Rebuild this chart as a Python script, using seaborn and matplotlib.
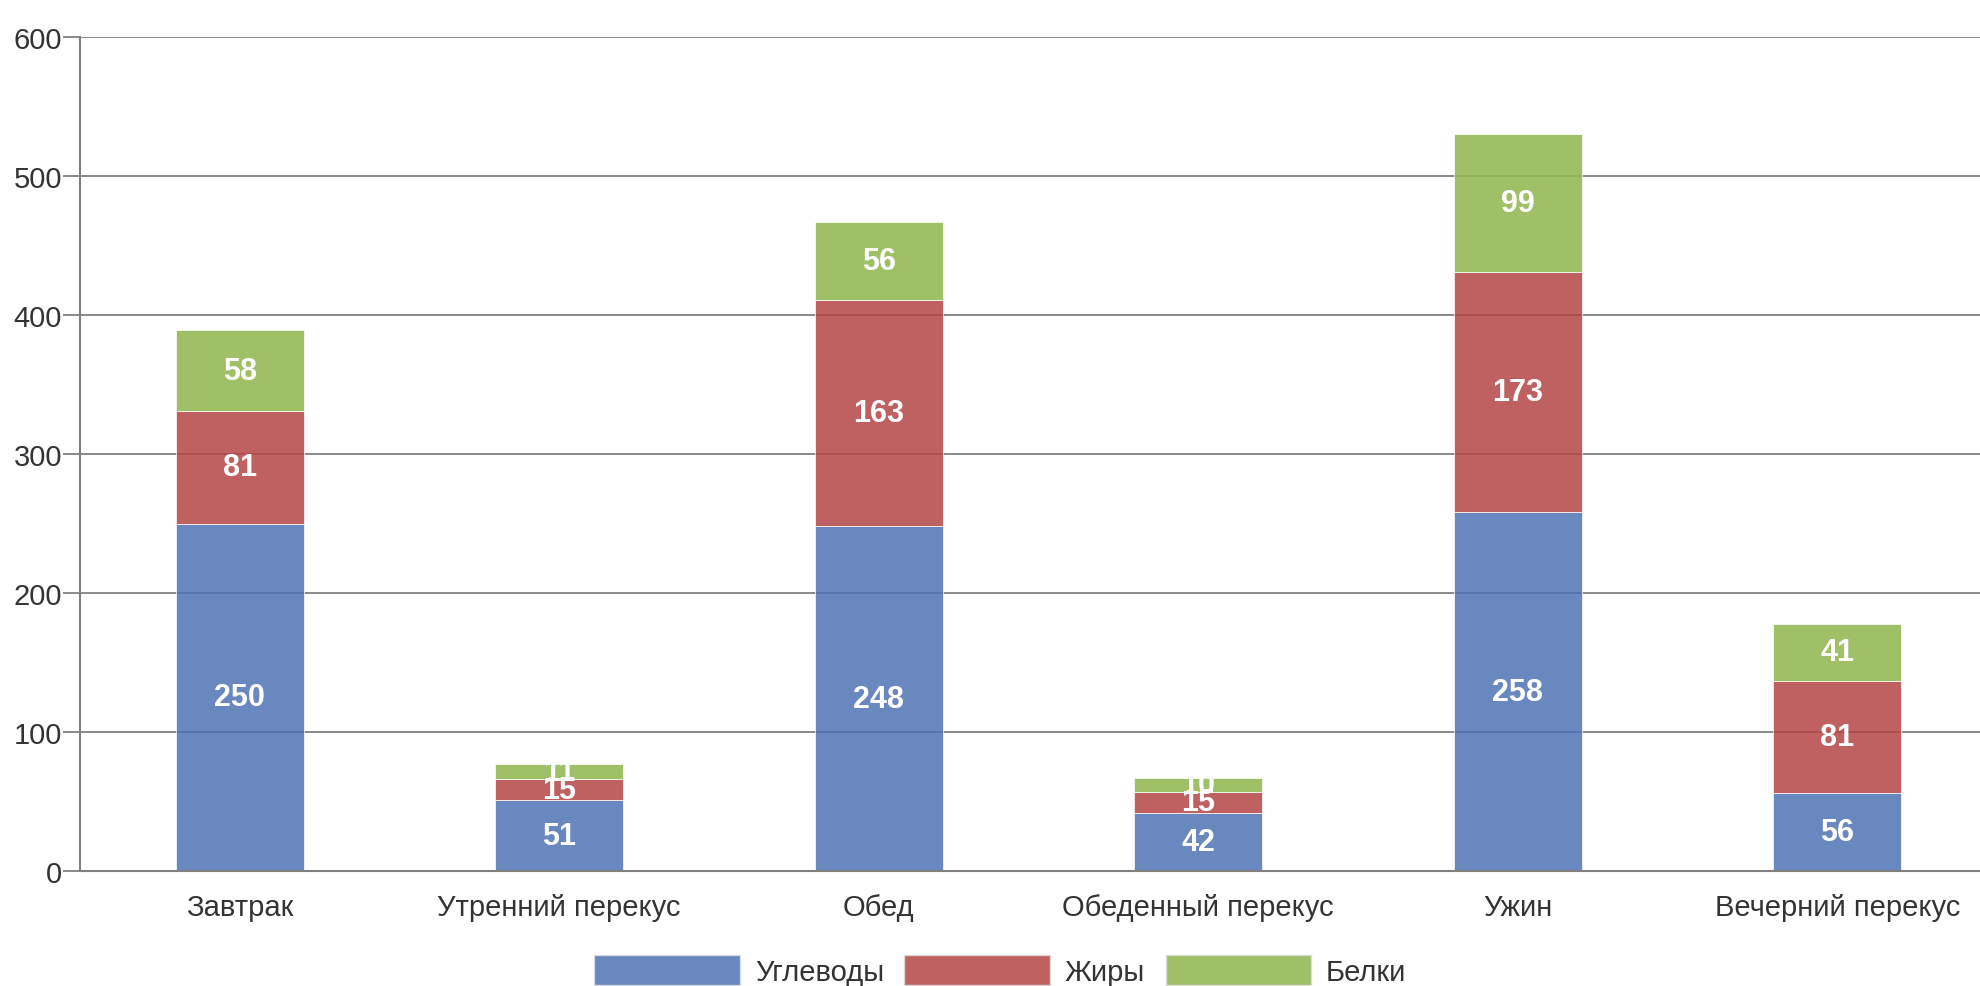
import numpy as np
import pandas as pd
import matplotlib
matplotlib.use('Agg')
import matplotlib.pyplot as plt
import seaborn as sns
from matplotlib.patches import Patch

# данные
meals = ['Завтрак', 'Утренний перекус', 'Обед', 'Обеденный перекус', 'Ужин', 'Вечерний перекус']
carbs = [250, 51, 248, 42, 258, 56]
fats = [81, 15, 163, 15, 173, 81]
proteins = [58, 11, 56, 10, 99, 41]
series_names = ['Углеводы', 'Жиры', 'Белки']
colors = ['#4F73B4', '#B44544', '#8FB54D']

df = pd.DataFrame({'meal': meals, 'Углеводы': carbs, 'Жиры': fats, 'Белки': proteins})

sns.set_style('white')
plt.rcParams['font.family'] = ['Liberation Sans', 'DejaVu Sans']

fig = plt.figure(figsize=(19.81, 9.87), dpi=100)
ax = fig.add_axes([80 / 1981, 1 - 872 / 987, 1917 / 1981, 834 / 987])

bottom = np.zeros(len(meals))
for name, c in zip(series_names, colors):
    sns.barplot(data=df, x='meal', y=name, bottom=bottom, color=c, width=0.4,
                errorbar=None, alpha=0.85, edgecolor='#ffffff', linewidth=0.6,
                saturation=1, ax=ax, zorder=2)
    bottom = bottom + df[name].values

# подписи значений в центре сегментов
for cont in ax.containers:
    ax.bar_label(cont, label_type='center', color='white', fontsize=22,
                 fontweight='bold')

ax.set_ylim(0, 600)
ax.set_xlim(-0.5, 5.5)
ax.set_yticks(range(0, 601, 100))
ax.set_xlabel('')
ax.set_ylabel('')
ax.yaxis.grid(True, color='#808080', linewidth=1.3, zorder=0)
ax.set_axisbelow(True)
for s in ['top', 'right']:
    ax.spines[s].set_visible(False)
for s in ['left', 'bottom']:
    ax.spines[s].set_color('#808080')
    ax.spines[s].set_linewidth(1.5)
ax.tick_params(axis='y', length=12, width=1.3, color='#808080', pad=1,
               labelsize=21, labelcolor='#333333', left=True)
ax.tick_params(axis='x', length=0, pad=16, labelsize=21, labelcolor='#333333')

handles = [Patch(facecolor=c, alpha=0.85, edgecolor='#dddddd') for c in colors]
fig.legend(handles, series_names, loc='upper center', bbox_to_anchor=(0.505, 0.031),
           ncol=3, frameon=False, fontsize=21, handlelength=5.0, handleheight=1.2,
           handletextpad=0.5, columnspacing=0.7, borderpad=0, borderaxespad=0,
           labelcolor='#333333')

fig.savefig('out.png', dpi=100)
